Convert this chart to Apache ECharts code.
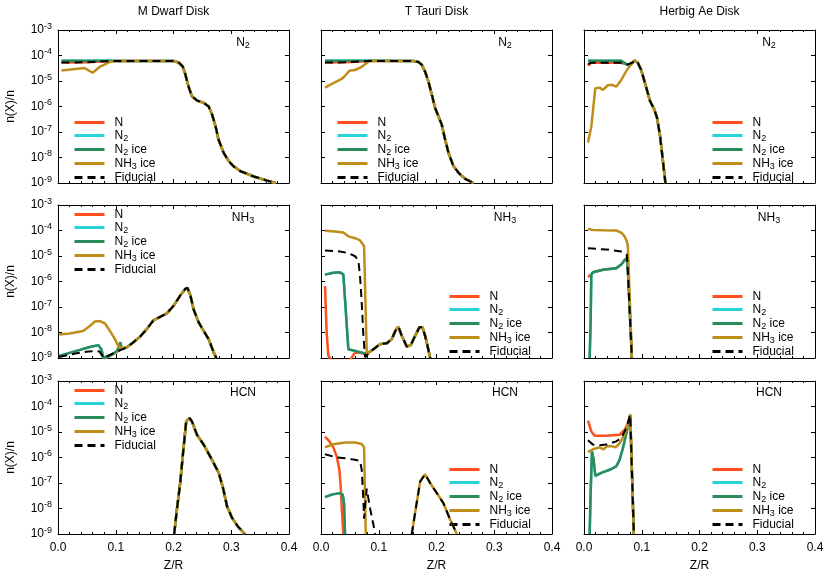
<!DOCTYPE html>
<html>
<head>
<meta charset="utf-8">
<script src="https://cdn.jsdelivr.net/npm/echarts@6/dist/echarts.min.js"></script>
<style>
  html, body { margin: 0; padding: 0; background: #fff; }
  #chart { width: 830px; height: 579px; }
</style>
</head>
<body>
<div id="chart"></div>
<script>
var FONT = 'Liberation Sans';

var diskTitles = ['M Dwarf Disk', 'T Tauri Disk', 'Herbig Ae Disk'];
var speciesLabels = ['N{sub|2}', 'NH{sub|3}', 'HCN'];
var seriesNames = ['N', 'N2', 'N2 ice', 'NH3 ice', 'Fiducial'];
var legendLabels = { 'N': 'N', 'N2': 'N{sub|2}', 'N2 ice': 'N{sub|2} ice', 'NH3 ice': 'NH{sub|3} ice', 'Fiducial': 'Fiducial' };
var seriesColors = ['#ff4f1c', '#27d3d8', '#2b8c5a', '#bf8e1a', '#000000'];

// ---- M Dwarf / N2 ----
var mN2_tail = [[0.099,6.1e-5],[0.200,6.1e-5],[0.209,5.3e-5],[0.216,3.7e-5],[0.220,2.0e-5],[0.226,6.1e-6],[0.232,2.5e-6],[0.241,1.7e-6],[0.252,1.4e-6],[0.261,1.0e-6],[0.267,4.7e-7],[0.273,1.6e-7],[0.278,5.0e-8],[0.287,1.5e-8],[0.296,7.0e-9],[0.304,4.5e-9],[0.316,2.9e-9],[0.339,1.8e-9],[0.362,1.24e-9],[0.377,1.0e-9]];
var mN2_n = [[0.006,5.3e-5],[0.05,5.4e-5],[0.085,6.0e-5]].concat(mN2_tail);
var mN2_n2 = [[0.006,6.2e-5],[0.09,6.2e-5]].concat(mN2_tail);
var mN2_ice = [[0.006,6.2e-5],[0.09,6.2e-5]].concat(mN2_tail);
var mN2_nh3 = [[0.006,2.6e-5],[0.046,3.2e-5],[0.060,2.1e-5],[0.073,3.7e-5],[0.090,5.6e-5]].concat(mN2_tail);
var mN2_fid = [[0.006,5.3e-5],[0.05,5.4e-5],[0.085,6.0e-5]].concat(mN2_tail);

// ---- T Tauri / N2 ----
var tN2_tail = [[0.0838,6.1e-5],[0.160,6.1e-5],[0.1688,5.6e-5],[0.1746,4.3e-5],[0.1803,2.3e-5],[0.1861,9.5e-6],[0.1919,2.9e-6],[0.1977,8.6e-7],[0.2035,4.1e-7],[0.2092,1.9e-7],[0.215,5.0e-8],[0.2208,1.5e-8],[0.2295,4.5e-9],[0.2382,2.5e-9],[0.2497,1.45e-9],[0.2642,1.0e-9]];
var tN2_n = [[0.0069,5.3e-5],[0.04,5.4e-5],[0.08,6.0e-5]].concat(tN2_tail);
var tN2_n2 = [[0.0069,6.2e-5],[0.083,6.2e-5]].concat(tN2_tail);
var tN2_ice = [[0.0069,6.2e-5],[0.083,6.2e-5]].concat(tN2_tail);
var tN2_nh3 = [[0.0069,5.5e-6],[0.0214,8.2e-6],[0.0358,1.2e-5],[0.0416,1.6e-5],[0.0491,2.5e-5],[0.059,2.7e-5],[0.0688,3.4e-5],[0.0763,4.5e-5]].concat(tN2_tail);
var tN2_fid = [[0.0069,5.3e-5],[0.04,5.4e-5],[0.08,6.0e-5]].concat(tN2_tail);

// ---- Herbig Ae / N2 ----
var hN2_tail = [[0.0875,6.3e-5],[0.0932,5.2e-5],[0.099,2.7e-5],[0.1065,7.1e-6],[0.1145,1.6e-6],[0.122,7.4e-7],[0.1266,3.5e-7],[0.1318,6.8e-8],[0.1364,8.1e-9],[0.141,1.0e-9]];
var hN2_n = [[0.0069,4.0e-5],[0.012,5.2e-5],[0.064,5.2e-5],[0.075,4.4e-5],[0.0835,5.2e-5]].concat(hN2_tail);
var hN2_n2 = [[0.0069,6.2e-5],[0.0645,6.2e-5],[0.072,4.8e-5],[0.078,4.1e-5],[0.0835,5.2e-5]].concat(hN2_tail);
var hN2_ice = [[0.0069,6.2e-5],[0.0645,6.2e-5],[0.072,4.8e-5],[0.078,4.1e-5],[0.0835,5.2e-5]].concat(hN2_tail);
var hN2_nh3 = [[0.0069,3.9e-8],[0.0127,1.66e-7],[0.0196,5.2e-6],[0.027,5.5e-6],[0.0328,4.5e-6],[0.0414,6.8e-6],[0.0489,7.1e-6],[0.0558,6.0e-6],[0.0645,1.1e-5],[0.0742,2.7e-5],[0.0835,5.0e-5]].concat(hN2_tail);
var hN2_fid = [[0.0069,4.6e-5],[0.012,5.2e-5],[0.064,5.2e-5],[0.075,4.4e-5],[0.0835,5.2e-5]].concat(hN2_tail);

// ---- M Dwarf / NH3 ----
var mNH3_tail = [[0.1188,2.6e-9],[0.1304,4.1e-9],[0.142,6.8e-9],[0.1536,1.35e-8],[0.1652,3.0e-8],[0.1768,4.1e-8],[0.1884,5.6e-8],[0.2,1.1e-7],[0.2116,2.8e-7],[0.2203,5.1e-7],[0.2243,5.6e-7],[0.229,3.0e-7],[0.2348,8.1e-8],[0.2435,2.5e-8],[0.2522,1.15e-8],[0.2609,5.5e-9],[0.2696,1.66e-9],[0.2742,1e-9]];
var mNH3_n = [[0.0788,9e-10],[0.0904,1.2e-9],[0.1043,1.9e-9],[0.1101,2.3e-9]].concat(mNH3_tail);
var mNH3_n2 = [[0.002,1.2e-9],[0.0319,1.9e-9],[0.0551,2.7e-9],[0.070,3.2e-9],[0.0754,2.1e-9],[0.0788,1.0e-9],[0.0904,1.25e-9],[0.1014,1.8e-9],[0.105,2.5e-9],[0.108,4.2e-9],[0.110,2.3e-9]].concat(mNH3_tail);
var mNH3_ice = [[0.002,1.2e-9],[0.0319,1.9e-9],[0.0551,2.7e-9],[0.070,3.2e-9],[0.0754,2.1e-9],[0.0788,1.0e-9],[0.0904,1.25e-9],[0.1014,1.8e-9],[0.105,2.5e-9],[0.108,4.2e-9],[0.110,2.3e-9]].concat(mNH3_tail);
var mNH3_nh3 = [[0.002,8.3e-9],[0.020,9.1e-9],[0.0435,1.15e-8],[0.0551,1.8e-8],[0.0638,2.7e-8],[0.0725,2.8e-8],[0.0812,2.3e-8],[0.0899,1.15e-8],[0.0986,5.5e-9],[0.1043,3.0e-9],[0.1101,2.5e-9]].concat(mNH3_tail);
var mNH3_fid = [[0.002,1.1e-9],[0.03,1.5e-9],[0.0527,1.8e-9],[0.066,1.9e-9],[0.072,1.8e-9],[0.0788,1.0e-9],[0.0933,1.45e-9],[0.1072,2.0e-9]].concat(mNH3_tail);

// ---- T Tauri / NH3 ----
var tNH3_tail = [[0.0821,1.5e-9],[0.0908,2.2e-9],[0.1023,3.5e-9],[0.1139,3.8e-9],[0.1225,5.5e-9],[0.1301,1.35e-8],[0.1341,1.66e-8],[0.1399,7.4e-9],[0.1486,2.8e-9],[0.1555,3.2e-9],[0.163,7.4e-9],[0.1705,1.62e-8],[0.1757,1.6e-8],[0.1803,7.4e-9],[0.1844,3.0e-9],[0.189,1e-9]];
var tNH3_n = [[0.0069,6.6e-7],[0.0098,1e-8],[0.0127,1.23e-9],[0.0185,8e-10],[0.050,8e-10],[0.059,1.66e-9],[0.0792,1.45e-9]].concat(tNH3_tail);
var tNH3_n2 = [[0.0069,1.86e-6],[0.0214,2.2e-6],[0.0329,2.3e-6],[0.0387,1.86e-6],[0.0474,2.2e-9],[0.0792,1.45e-9]].concat(tNH3_tail);
var tNH3_ice = [[0.0069,1.86e-6],[0.0214,2.2e-6],[0.0329,2.3e-6],[0.0387,1.86e-6],[0.0474,2.2e-9],[0.0792,1.45e-9]].concat(tNH3_tail);
var tNH3_nh3 = [[0.0069,9.8e-5],[0.0243,9.1e-5],[0.0387,8.3e-5],[0.0474,5.9e-5],[0.059,5.0e-5],[0.0676,4.1e-5],[0.0746,2.4e-5],[0.0792,1.45e-9]].concat(tNH3_tail);
var tNH3_fid = [[0.0069,1.66e-5],[0.0329,1.5e-5],[0.0474,1.3e-5],[0.059,9.8e-6],[0.0647,6.8e-6],[0.0676,1.6e-6],[0.0705,1.5e-7],[0.0734,7.4e-9],[0.0763,1.07e-9]].concat(tNH3_tail);

// ---- Herbig Ae / NH3 ----
var hNH3_n = [[0.0069,1.5e-6],[0.0127,1.86e-6],[0.0155,2.3e-6],[0.0328,2.9e-6],[0.0558,3.3e-6],[0.0645,4.6e-6],[0.0702,6.8e-6],[0.0742,8.3e-6],[0.076,3e-6],[0.0829,1e-9]];
var hNH3_n2 = [[0.0098,1e-9],[0.0115,2.5e-8],[0.0127,1.86e-6],[0.0155,2.3e-6],[0.0328,2.9e-6],[0.0558,3.3e-6],[0.0645,4.6e-6],[0.0702,6.8e-6],[0.0742,8.3e-6],[0.076,3e-6],[0.0829,1e-9]];
var hNH3_ice = [[0.0098,1e-9],[0.0115,2.5e-8],[0.0127,1.86e-6],[0.0155,2.3e-6],[0.0328,2.9e-6],[0.0558,3.3e-6],[0.0645,4.6e-6],[0.0702,6.8e-6],[0.0742,8.3e-6],[0.076,3e-6],[0.0829,1e-9]];
var hNH3_nh3 = [[0.0069,1.16e-4],[0.0155,1.05e-4],[0.0328,1.02e-4],[0.0558,1.0e-4],[0.0645,8.3e-5],[0.0702,5.9e-5],[0.0742,3.7e-5],[0.076,2.4e-5],[0.0829,1e-9]];
var hNH3_fid = [[0.0069,2.0e-5],[0.0386,1.8e-5],[0.0645,1.5e-5],[0.0742,1.1e-5],[0.076,2.4e-6],[0.0829,1e-9]];

// ---- M Dwarf / HCN ----
var mHCN_all = [[0.2012,1e-9],[0.2058,8.9e-9],[0.2116,1e-7],[0.2162,1.26e-6],[0.222,2.6e-5],[0.2278,3.5e-5],[0.2319,2.6e-5],[0.2406,7.8e-6],[0.2522,3.2e-6],[0.2667,8.1e-7],[0.2783,2.5e-7],[0.2858,6.3e-8],[0.2928,1.2e-8],[0.3014,4.3e-9],[0.3113,2.0e-9],[0.3235,1e-9]];

// ---- T Tauri / HCN ----
var tHCN_peak = [[0.1572,1e-9],[0.1647,1.2e-8],[0.1717,1.15e-7],[0.1803,2.2e-7],[0.189,1e-7],[0.2006,4e-8],[0.2121,1.6e-8],[0.2237,3.6e-9],[0.2353,1e-9]];
var tHCN_n = [[0.0069,6.6e-6],[0.0145,4.3e-6],[0.0214,2.5e-6],[0.0272,1.1e-6],[0.0318,3.3e-7],[0.0341,7.4e-8],[0.0358,1.2e-8],[0.0387,1e-9]];
var tHCN_n2 = [[0.0069,2.8e-8],[0.0185,3.5e-8],[0.0318,4e-8],[0.0376,3.5e-8],[0.0399,1.6e-8],[0.0416,1e-9]];
var tHCN_ice = [[0.0069,2.8e-8],[0.0185,3.5e-8],[0.0318,4e-8],[0.0376,3.5e-8],[0.0399,1.6e-8],[0.0416,1e-9]];
var tHCN_nh3 = [[0.0069,2.5e-6],[0.0214,3.3e-6],[0.0416,3.9e-6],[0.059,3.9e-6],[0.0705,3.4e-6],[0.0746,2.5e-6],[0.0775,1e-9],[0.12,null]].concat(tHCN_peak);
var tHCN_fid = [[0.0069,1.35e-6],[0.0272,1.0e-6],[0.0416,9.3e-7],[0.059,8.1e-7],[0.0676,7.4e-7],[0.0705,3.3e-7],[0.0734,2.2e-8],[0.0746,4e-9],[0.0792,6e-8],[0.085,1e-8],[0.094,1e-9],[0.12,null]].concat(tHCN_peak);

// ---- Herbig Ae / HCN ----
var hHCN_n = [[0.0069,2.8e-5],[0.0127,1.05e-5],[0.0184,7.2e-6],[0.0386,7.2e-6],[0.0616,7.8e-6],[0.0702,1.2e-5],[0.076,2.2e-5],[0.08,4.7e-5],[0.0863,1e-9]];
var hHCN_n2 = [[0.0098,1e-9],[0.0115,4e-8],[0.0138,1.7e-6],[0.0167,8.1e-7],[0.0196,1.9e-7],[0.0299,2.5e-7],[0.0443,3.3e-7],[0.0558,4.5e-7],[0.0616,8.1e-7],[0.0673,2.3e-6],[0.0742,1.05e-5],[0.08,4.7e-5],[0.0863,1e-9]];
var hHCN_ice = [[0.0098,1e-9],[0.0115,4e-8],[0.0138,1.7e-6],[0.0167,8.1e-7],[0.0196,1.9e-7],[0.0299,2.5e-7],[0.0443,3.3e-7],[0.0558,4.5e-7],[0.0616,8.1e-7],[0.0673,2.3e-6],[0.0742,1.05e-5],[0.08,4.7e-5],[0.0863,1e-9]];
var hHCN_nh3 = [[0.0069,1.62e-6],[0.0155,2.1e-6],[0.027,2.5e-6],[0.034,2.1e-6],[0.0386,2.7e-6],[0.0472,2.8e-6],[0.0547,2.5e-6],[0.0616,3.6e-6],[0.0702,7.8e-6],[0.076,1.9e-5],[0.08,4.7e-5],[0.0863,1e-9]];
var hHCN_fid = [[0.0069,4.7e-6],[0.0155,3.2e-6],[0.027,3.0e-6],[0.0386,3.2e-6],[0.0558,4.3e-6],[0.0645,5.8e-6],[0.0731,1.4e-5],[0.08,4.7e-5],[0.0863,1e-9]];

// panels in row order: [N, N2, N2 ice, NH3 ice, Fiducial]
var panels = [
  [mN2_n, mN2_n2, mN2_ice, mN2_nh3, mN2_fid],
  [tN2_n, tN2_n2, tN2_ice, tN2_nh3, tN2_fid],
  [hN2_n, hN2_n2, hN2_ice, hN2_nh3, hN2_fid],
  [mNH3_n, mNH3_n2, mNH3_ice, mNH3_nh3, mNH3_fid],
  [tNH3_n, tNH3_n2, tNH3_ice, tNH3_nh3, tNH3_fid],
  [hNH3_n, hNH3_n2, hNH3_ice, hNH3_nh3, hNH3_fid],
  [mHCN_all, mHCN_all, mHCN_all, mHCN_all, mHCN_all],
  [tHCN_n, tHCN_n2, tHCN_ice, tHCN_nh3, tHCN_fid],
  [hHCN_n, hHCN_n2, hHCN_ice, hHCN_nh3, hHCN_fid]
];

// layout
var colLeft = [58, 321, 584];
var rowTop = [30, 205, 381];
var W = 231, H = 153;
var legendPos = [
  [73, 116], [336, 116], [711, 116],
  [73, 208], [448, 290], [711, 290],
  [73, 384], [448, 463], [711, 463]
];
var labelX = [243, 505, 769];
var labelY = [43, 218, 393];

var chart = echarts.init(document.getElementById('chart'), null, { renderer: 'canvas' });

var option = {
  animation: false,
  backgroundColor: '#fff',
  textStyle: { fontFamily: FONT, color: '#000' },
  grid: [], xAxis: [], yAxis: [], series: [], legend: [], graphic: []
};

function xAxisFor(i, pos, showLabels) {
  return {
    type: 'value', gridIndex: i, position: pos, min: 0, max: 0.4, interval: 0.1,
    axisLine: { show: true, onZero: false, lineStyle: { color: '#000', width: 1 } },
    axisTick: { show: true, inside: true, length: 4, lineStyle: { color: '#000' } },
    minorTick: { show: true, splitNumber: 5, length: 2, lineStyle: { color: '#000' } },
    splitLine: { show: false },
    axisLabel: {
      show: showLabels, margin: 8, fontSize: 12, color: '#000', fontFamily: FONT,
      formatter: function (v) { return v.toFixed(1); }
    },
    name: showLabels ? 'Z/R' : '', nameLocation: 'middle', nameGap: 26,
    nameTextStyle: { fontSize: 12, color: '#000', fontFamily: FONT }
  };
}

function yAxisFor(i, pos, showLabels) {
  return {
    type: 'log', logBase: 10, gridIndex: i, position: pos, min: 1e-9, max: 1e-3, splitNumber: 6,
    axisLine: { show: true, onZero: false, lineStyle: { color: '#000', width: 1 } },
    axisTick: { show: true, inside: true, length: 4, lineStyle: { color: '#000' } },
    splitLine: { show: false },
    axisLabel: {
      show: showLabels, margin: 6, fontSize: 12, color: '#000', fontFamily: FONT,
      formatter: function (v) { return '10{sup|' + Math.round(Math.log10(v)) + '}'; },
      rich: { sup: { fontSize: 9, fontFamily: FONT, color: '#000', padding: [0, 0, 7, 0] } }
    },
    name: showLabels ? 'n(X)/n' : '', nameLocation: 'middle', nameGap: 41,
    nameTextStyle: { fontSize: 12, color: '#000', fontFamily: FONT }
  };
}

for (var r = 0; r < 3; r++) {
  for (var c = 0; c < 3; c++) {
    var i = r * 3 + c;
    option.grid.push({ left: colLeft[c], top: rowTop[r], width: W, height: H });
    option.xAxis.push(xAxisFor(i, 'bottom', r === 2));
    option.xAxis.push(xAxisFor(i, 'top', false));
    option.yAxis.push(yAxisFor(i, 'left', c === 0));
    option.yAxis.push(yAxisFor(i, 'right', false));

    for (var k = 0; k < 5; k++) {
      var dashed = k === 4;
      option.series.push({
        type: 'line', name: seriesNames[k],
        xAxisIndex: 2 * i, yAxisIndex: 2 * i,
        data: panels[i][k],
        symbol: 'none', showSymbol: false, connectNulls: false,
        color: seriesColors[k],
        lineStyle: { color: seriesColors[k], width: dashed ? 2 : 2.5, type: dashed ? [8, 5] : 'solid' },
        z: 2 + k
      });
    }

    option.legend.push({
      orient: 'vertical', left: legendPos[i][0], top: legendPos[i][1],
      padding: 0, itemGap: 0, itemWidth: 30, itemHeight: 10,
      selectedMode: false,
      data: seriesNames,
      formatter: function (name) { return legendLabels[name]; },
      itemStyle: { opacity: 0 },
      lineStyle: { width: 3 },
      textStyle: {
        fontSize: 12, fontFamily: FONT, color: '#000', lineHeight: 13, padding: [0, 0, 0, 5],
        rich: { sub: { fontSize: 9, fontFamily: FONT, color: '#000', padding: [6, 0, 0, 0] } }
      }
    });

    option.graphic.push({
      type: 'text', x: labelX[c], y: labelY[r], silent: true,
      style: {
        text: speciesLabels[r], fill: '#000', fontSize: 12, fontFamily: FONT,
        align: 'center', verticalAlign: 'middle',
        rich: { sub: { fontSize: 9, fontFamily: FONT, fill: '#000', padding: [6, 0, 0, 0] } }
      }
    });
  }
  option.graphic.push({
    type: 'text', x: colLeft[r] + W / 2, y: 12, silent: true,
    style: { text: diskTitles[r], fill: '#000', fontSize: 12, fontFamily: FONT, align: 'center', verticalAlign: 'middle' }
  });
}

chart.setOption(option);
</script>
</body>
</html>
